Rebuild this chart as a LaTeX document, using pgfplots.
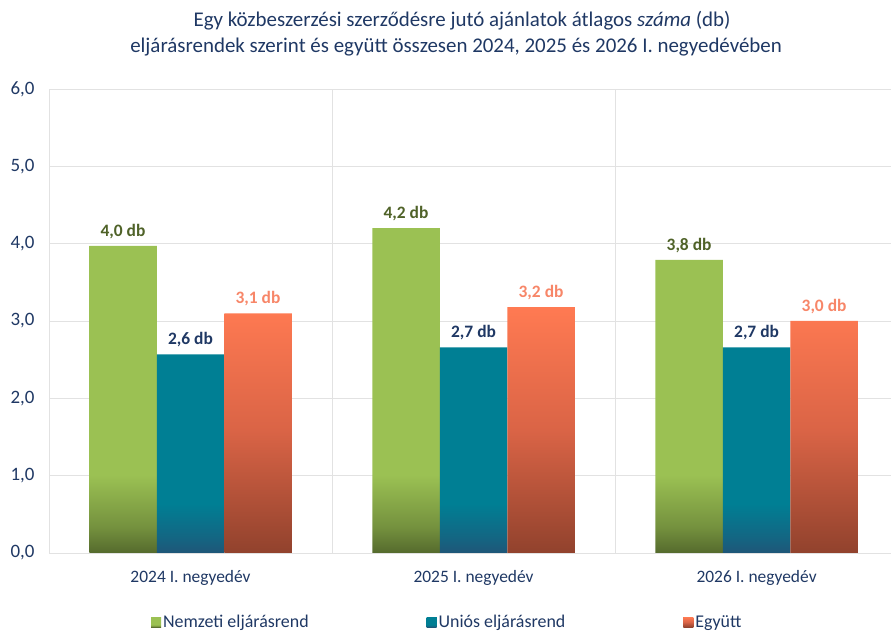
\documentclass[border=0pt]{standalone}
\usepackage{fontspec}
\setmainfont{Carlito}
\usepackage{pgfplots}
\pgfplotsset{compat=1.18}
\definecolor{navy}{RGB}{31,56,100}
\definecolor{gT}{RGB}{155,193,83}
\definecolor{gB}{RGB}{85,106,45}
\definecolor{tT}{RGB}{0,127,148}
\definecolor{tB}{RGB}{31,86,120}
\definecolor{oT}{RGB}{255,122,82}
\definecolor{oM}{RGB}{218,100,70}
\definecolor{oB}{RGB}{145,66,45}
\definecolor{gL}{RGB}{79,98,40}
\definecolor{oL}{RGB}{247,134,104}
\definecolor{gridc}{RGB}{226,226,226}
\pgfdeclareverticalshading{gshade}{100bp}{color(0bp)=(gB); color(25bp)=(gB); color(29bp)=(gB!55!gT); color(37bp)=(gT); color(100bp)=(gT)}
\pgfdeclareverticalshading{tshade}{100bp}{color(0bp)=(tB); color(25bp)=(tB); color(29bp)=(tB!60!tT); color(37bp)=(tT); color(100bp)=(tT)}
\pgfdeclareverticalshading{oshade}{100bp}{color(0bp)=(oB); color(25bp)=(oB); color(50bp)=(oM); color(75bp)=(oT); color(100bp)=(oT)}
\begin{document}
\begin{tikzpicture}
\path[use as bounding box] (0,0) rectangle (891bp,632bp);
\node[anchor=base, text=navy, font=\fontsize{21}{25}\selectfont] at (462bp,605bp) {Egy közbeszerzési szerződésre jutó ajánlatok átlagos \textit{száma} (db)};
\node[anchor=base, text=navy, font=\fontsize{21}{25}\selectfont] at (456bp,579bp) {eljárásrendek szerint és együtt összesen 2024, 2025 és 2026 I. negyedévében};
\begin{axis}[
  at={(49bp,79bp)}, anchor=south west,
  scale only axis, width=842bp, height=464bp,
  xmin=-0.5, xmax=2.475, ymin=0, ymax=6,
  axis x line=bottom, axis y line=left,
  axis line style={draw=gridc, line width=0.8bp, -},
  xtick={0,1,2},
  xticklabels={2024 I. negyedév, 2025 I. negyedév, 2026 I. negyedév},
  minor xtick={-0.5,0.5,1.5,2.5},
  xminorgrids, ymajorgrids,
  grid style={draw=gridc, line width=0.8bp},
  minor grid style={draw=gridc, line width=0.8bp},
  major tick length=0pt, minor tick length=0pt,
  ytick={0,1,2,3,4,5,6},
  /pgf/number format/assume math mode=true,
  yticklabel style={text=navy, font=\fontsize{19}{22}\selectfont, xshift=-11bp,
    /pgf/number format/fixed, /pgf/number format/fixed zerofill,
    /pgf/number format/precision=1, /pgf/number format/use comma},
  xticklabel style={text=navy, font=\fontsize{17.5}{20}\selectfont, yshift=-14bp},
  ybar=0pt, bar width=67.5bp,
  nodes near coords={\pgfmathprintnumber[fixed,fixed zerofill,precision=1,use comma]{\pgfplotspointmeta}~db},
  every node near coord/.append style={font=\fontsize{17.5}{20}\bfseries, anchor=south, yshift=4bp},
  legend style={at={(0.473,-0.149)}, anchor=center, draw=none, fill=none,
    legend columns=3, font=\fontsize{18}{21}\selectfont, text=navy,
    /tikz/every even column/.append style={column sep=116bp}},
]
\addplot[draw=none, shade, shading=gshade, every node near coord/.append style={text=gL},
  legend image code/.code={\fill[gT] (0bp,-5bp) rectangle (10bp,5bp);}]
  coordinates {(0,3.97) (1,4.20) (2,3.79)};
\addlegendentry{Nemzeti eljárásrend}
\addplot[draw=none, shade, shading=tshade, every node near coord/.append style={text=navy},
  legend image code/.code={\fill[tT] (0bp,-5bp) rectangle (10bp,5bp);}]
  coordinates {(0,2.57) (1,2.66) (2,2.66)};
\addlegendentry{Uniós eljárásrend}
\addplot[draw=none, shade, shading=oshade, every node near coord/.append style={text=oL},
  legend image code/.code={\fill[oT!85!oB] (0bp,-5bp) rectangle (10bp,5bp);}]
  coordinates {(0,3.10) (1,3.18) (2,3.00)};
\addlegendentry{Együtt}
\end{axis}
\end{tikzpicture}
\end{document}
